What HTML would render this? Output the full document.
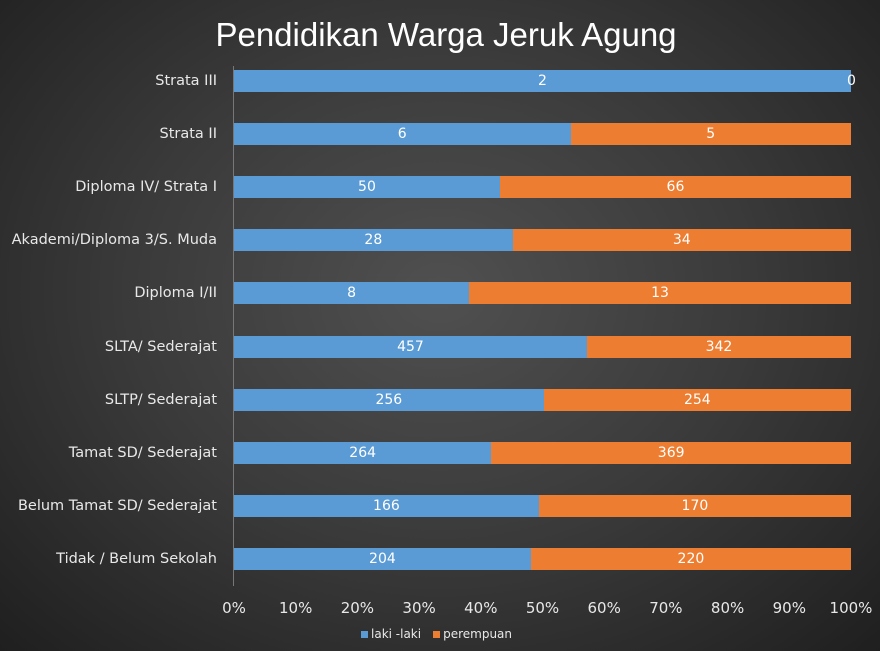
<!DOCTYPE html><html><head><style>
body{margin:0;width:880px;height:651px;overflow:hidden;background:radial-gradient(ellipse at 50% 45%,#505050 0%,#3a3a3a 50%,#1f1f1f 100%);font-family:"Liberation Sans","DejaVu Sans",sans-serif;position:relative;color:#fff}
.t{position:absolute;left:0;width:892px;text-align:center;top:16px;font-size:33px}
.l{position:absolute;right:663px;font-size:14.5px;font-family:"DejaVu Sans",sans-serif;color:#e8e8e8;white-space:nowrap;transform:translateY(-50%)}
.b{position:absolute;height:22px;transform:translateY(-50%);font-size:14px;font-family:"DejaVu Sans",sans-serif;color:#fff;text-align:center;line-height:23px}
.x{position:absolute;top:599px;font-size:15px;font-family:"DejaVu Sans",sans-serif;color:#e8e8e8;transform:translateX(-50%)}
</style></head><body>
<div class="t">Pendidikan Warga Jeruk Agung</div>
<div style="position:absolute;left:233px;top:66px;width:1px;height:520px;background:#777"></div>
<div id="c"></div>
<div style="position:absolute;top:627px;left:361px;font-size:12px;font-family:'DejaVu Sans',sans-serif;color:#e8e8e8"><span style="display:inline-block;width:7px;height:7px;background:#5b9bd5;margin-right:3px"></span>laki -laki<span style="display:inline-block;width:7px;height:7px;background:#ed7d31;margin:0 3px 0 12px"></span>perempuan</div>
<script>
var d=[["Strata III",2,0],["Strata II",6,5],["Diploma IV/ Strata I",50,66],["Akademi/Diploma 3/S. Muda",28,34],["Diploma I/II",8,13],["SLTA/ Sederajat",457,342],["SLTP/ Sederajat",256,254],["Tamat SD/ Sederajat",264,369],["Belum Tamat SD/ Sederajat",166,170],["Tidak / Belum Sekolah",204,220]];
var h="",x0=234,W=617;
d.forEach(function(r,i){var y=81+i*53.1,s=r[1]/(r[1]+r[2])*W;
h+='<div class="l" style="top:'+y+'px">'+r[0]+'</div>';
h+='<div class="b" style="top:'+y+'px;left:'+x0+'px;width:'+s+'px;background:#5b9bd5">'+r[1]+'</div>';
if(r[2]>0)h+='<div class="b" style="top:'+y+'px;left:'+(x0+s)+'px;width:'+(W-s)+'px;background:#ed7d31">'+r[2]+'</div>';
else h+='<div class="b" style="top:'+y+'px;left:'+(x0+W-4)+'px;width:8px">0</div>';});
for(var k=0;k<=10;k++)h+='<div class="x" style="left:'+(x0+W*k/10)+'px">'+k*10+'%</div>';
document.getElementById("c").innerHTML=h;
</script></body></html>
